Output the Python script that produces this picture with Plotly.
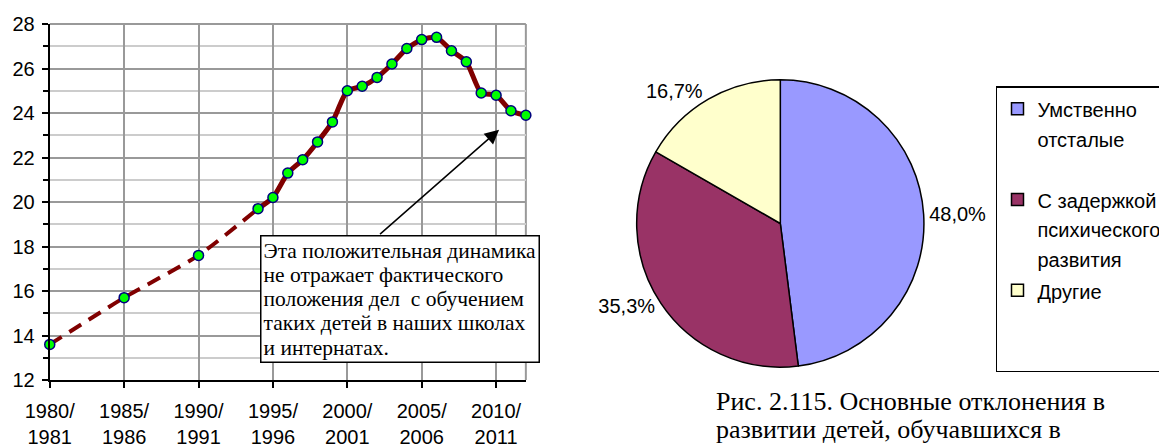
import plotly.graph_objects as go

# ---------------- data ----------------
years = [1980, 1985, 1990, 1994, 1995, 1996, 1997, 1998, 1999, 2000, 2001,
         2002, 2003, 2004, 2005, 2006, 2007, 2008, 2009, 2010, 2011, 2012]
values = [13.6, 15.7, 17.6, 19.7, 20.2, 21.3, 21.9, 22.7, 23.6, 25.0, 25.2,
          25.6, 26.2, 26.9, 27.3, 27.4, 26.8, 26.3, 24.9, 24.8, 24.1, 23.9]
n_dashed = 4  # first points joined by a dashed line

tick_years = [1980, 1985, 1990, 1995, 2000, 2005, 2010]
tick_labels = ["1980/<br>1981", "1985/<br>1986", "1990/<br>1991", "1995/<br>1996",
               "2000/<br>2001", "2005/<br>2006", "2010/<br>2011"]

pie_names = [["Умственно", "отсталые", " "],
             ["С задержкой", "психического", "развития"],
             ["Другие", " ", " "]]
pie_values = [48.0, 35.3, 16.7]
pie_colors = ["#9999FF", "#993366", "#FFFFCC"]

note_lines = ["Эта положительная динамика", "не отражает фактического",
              "положения дел  с обучением", "таких детей в наших школах",
              "и интернатах."]
caption_lines = ["Рис. 2.115. Основные отклонения в", "развитии детей, обучавшихся в"]

arrow_head = (2010.2, 23.25)
arrow_tail = (2002.1, 18.5)

# ---------------- geometry (window pixels; page body has an 8px margin) ----------------
WIN_W, WIN_H = 1167, 447
OFF = 8
W, H = WIN_W - OFF, WIN_H - OFF


def px(x):
    return (x - OFF) / W


def py(y):
    return 1 - (y - OFF) / H


SANS = "Liberation Sans, Arial, sans-serif"
SERIF = "Liberation Serif, Times New Roman, serif"
LINE_COLOR = "#800000"


def sized(lines, size):
    return "<br>".join(f'<span style="font-size:{size}px">{s}</span>' for s in lines)


fig = go.Figure()

fig.add_trace(go.Scatter(
    x=years[:n_dashed], y=values[:n_dashed], mode="lines",
    line=dict(color=LINE_COLOR, width=4, dash="14px,9px", shape="spline", smoothing=0.6),
    showlegend=False, hoverinfo="skip", cliponaxis=False))
fig.add_trace(go.Scatter(
    x=years[n_dashed - 1:], y=values[n_dashed - 1:], mode="lines",
    line=dict(color=LINE_COLOR, width=5, shape="spline", smoothing=0.6),
    showlegend=False, hoverinfo="skip", cliponaxis=False))
fig.add_trace(go.Scatter(
    x=years, y=values, mode="markers",
    marker=dict(size=10, color="#00FF00", line=dict(color="#000080", width=1.5)),
    showlegend=False, cliponaxis=False))

fig.add_trace(go.Pie(
    labels=[sized(n, 20) for n in pie_names], values=pie_values, sort=False,
    direction="clockwise", rotation=0,
    marker=dict(colors=pie_colors, line=dict(color="black", width=1.5)),
    textposition="outside", texttemplate="%{value:.1f}%",
    textfont=dict(family=SANS, size=20, color="black"),
    domain=dict(x=[px(640.5), px(929.5)], y=[py(368), py(79)]),
    automargin=False, showlegend=True))

fig.update_xaxes(
    domain=[px(50), px(529)], range=[1980, 2012], automargin=False,
    tickmode="array", tickvals=tick_years, ticktext=tick_labels,
    showgrid=True, gridcolor="#999999", gridwidth=1.5,
    showline=True, linecolor="black", linewidth=2,
    ticks="outside", ticklen=6, tickcolor="black", tickwidth=2,
    ticklabelstandoff=6,
    tickfont=dict(family=SANS, size=20, color="black"),
    zeroline=False)
fig.update_yaxes(
    domain=[py(380), py(24)], range=[12, 28], dtick=2, tick0=12, automargin=False,
    showgrid=True, gridcolor="#999999", gridwidth=1.5,
    minor=dict(dtick=1, showgrid=True, gridcolor="#CCCCCC", gridwidth=1.5,
               ticks="outside", ticklen=5, tickcolor="black", tickwidth=2),
    showline=True, linecolor="black", linewidth=2,
    ticks="outside", ticklen=6, tickcolor="black", tickwidth=2,
    ticklabelstandoff=3,
    tickfont=dict(family=SANS, size=20, color="black"),
    zeroline=False)

# gray top/right border of the plot area
fig.add_shape(type="line", xref="x domain", yref="y domain", x0=0, x1=1, y0=1, y1=1,
              line=dict(color="#999999", width=2), layer="below")
fig.add_shape(type="line", xref="x domain", yref="y domain", x0=1, x1=1, y0=0, y1=1,
              line=dict(color="#999999", width=2), layer="below")

# arrow
fig.add_annotation(x=arrow_head[0], y=arrow_head[1], ax=arrow_tail[0], ay=arrow_tail[1],
                   xref="x", yref="y", axref="x", ayref="y", text="",
                   showarrow=True, arrowhead=2, arrowsize=1.9, arrowwidth=1.5,
                   arrowcolor="black")
# note box
fig.add_annotation(x=px(262), y=py(235), xref="paper", yref="paper",
                   xanchor="left", yanchor="top", text=sized(note_lines, 21.5), align="left",
                   showarrow=False, bgcolor="white", bordercolor="black",
                   borderwidth=1.5, borderpad=2,
                   font=dict(family=SERIF, size=18.7, color="black"))
# caption (kept fully inside the picture)
fig.add_annotation(x=px(718), y=py(446), xref="paper", yref="paper",
                   xanchor="left", yanchor="bottom", text=sized(caption_lines, 26),
                   align="left", showarrow=False,
                   font=dict(family=SERIF, size=21.5, color="black"))

fig.update_layout(
    width=W, height=H, margin=dict(l=0, r=0, t=0, b=0),
    paper_bgcolor="white", plot_bgcolor="white",
    separators=", ",
    font=dict(family=SANS, size=20, color="black"),
    legend=dict(x=px(1002), y=py(86), xanchor="left", yanchor="top",
                bordercolor="black", borderwidth=1.5, bgcolor="white",
                valign="top", font=dict(family=SANS, size=22.5, color="black")),
)

fig.write_html("out.html")
